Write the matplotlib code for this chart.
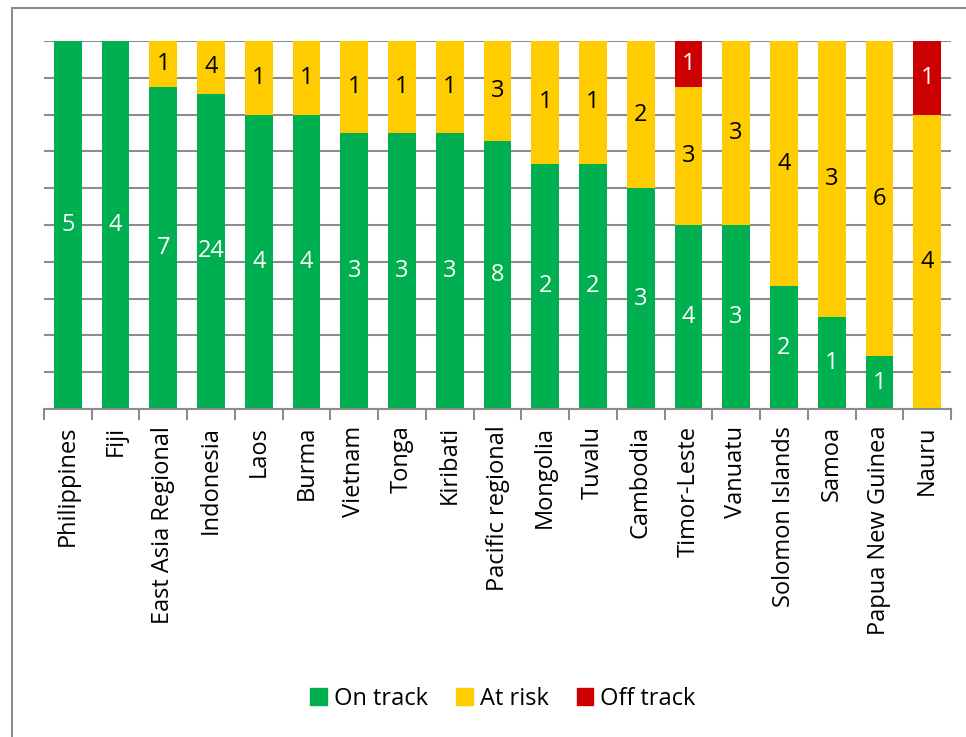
import matplotlib.pyplot as plt
import matplotlib.patches as mpatches
import numpy as np

countries = ["Philippines", "Fiji", "East Asia Regional", "Indonesia", "Laos", "Burma",
             "Vietnam", "Tonga", "Kiribati", "Pacific regional", "Mongolia", "Tuvalu",
             "Cambodia", "Timor-Leste", "Vanuatu", "Solomon Islands", "Samoa",
             "Papua New Guinea", "Nauru"]
on_track = [5, 4, 7, 24, 4, 4, 3, 3, 3, 8, 2, 2, 3, 4, 3, 2, 1, 1, 0]
at_risk = [0, 0, 1, 4, 1, 1, 1, 1, 1, 3, 1, 1, 2, 3, 3, 4, 3, 6, 4]
off_track = [0, 0, 0, 0, 0, 0, 0, 0, 0, 0, 0, 0, 0, 1, 0, 0, 0, 0, 1]

green = "#00AF50"
yellow = "#FFCC00"
red = "#CC0000"
grid_col = "#8c8c8c"

plt.rcParams['font.family'] = ['Open Sans', 'DejaVu Sans']

def main():
	fig = plt.figure(figsize=(9.66, 7.37), dpi=100)
	# outer chart border
	fig.patches.append(mpatches.Rectangle((12/966, -0.05), 1.0, 1 - 8/737 + 0.05,
		transform=fig.transFigure, fill=False, edgecolor="#8c8c8c", linewidth=1.5))
	ax = fig.add_axes([44/966, 1 - 409/737, 907/966, 368/737])

	on = np.array(on_track, float)
	ar = np.array(at_risk, float)
	off = np.array(off_track, float)
	tot = on + ar + off
	p_on = on / tot * 100
	p_ar = ar / tot * 100
	p_off = off / tot * 100
	x = np.arange(len(countries))
	w = 0.58
	fs = 17

	ax.bar(x, p_on, w, color=green, zorder=3)
	ax.bar(x, p_ar, w, bottom=p_on, color=yellow, zorder=3)
	ax.bar(x, p_off, w, bottom=p_on + p_ar, color=red, zorder=3)

	for i in range(len(countries)):
		if on[i] > 0:
			ax.text(x[i], p_on[i] / 2, "%d" % on[i], ha="center", va="center",
				color="white", fontsize=fs, zorder=4)
		if ar[i] > 0:
			ax.text(x[i], p_on[i] + p_ar[i] / 2, "%d" % ar[i], ha="center", va="center",
				color="black", fontsize=fs, zorder=4)
		if off[i] > 0:
			ax.text(x[i], p_on[i] + p_ar[i] + p_off[i] / 2, "%d" % off[i], ha="center",
				va="center", color="white", fontsize=fs, zorder=4)

	ax.set_xlim(-0.5, len(countries) - 0.5)
	ax.set_ylim(0, 100)
	ax.set_yticks(np.arange(0, 101, 10))
	ax.set_yticklabels([])
	ax.yaxis.grid(True, color=grid_col, linewidth=1.5, zorder=0)
	ax.tick_params(axis="y", length=0)
	for s in ["left", "right", "top"]:
		ax.spines[s].set_visible(False)
	ax.spines["bottom"].set_color(grid_col)
	ax.spines["bottom"].set_linewidth(1.5)
	ax.spines["bottom"].set_zorder(5)

	ax.set_xticks(np.arange(-0.5, len(countries), 1.0))
	ax.set_xticklabels([])
	ax.set_xticks(x, minor=True)
	ax.set_xticklabels(countries, minor=True, rotation=90, fontsize=fs)
	ax.tick_params(axis="x", which="major", length=8, width=1.5, color=grid_col, direction="out")
	ax.tick_params(axis="x", which="minor", length=0, pad=12)

	handles = [mpatches.Patch(color=green, label="On track"),
		mpatches.Patch(color=yellow, label="At risk"),
		mpatches.Patch(color=red, label="Off track")]
	fig.legend(handles=handles, loc="center", bbox_to_anchor=(503/966, 1 - 699/737),
		ncol=3, frameon=False, fontsize=fs, handlelength=0.7, handleheight=0.7,
		handletextpad=0.3, columnspacing=1.2)

	fig.savefig("out.png", dpi=100)

if __name__ == '__main__':
	main()
